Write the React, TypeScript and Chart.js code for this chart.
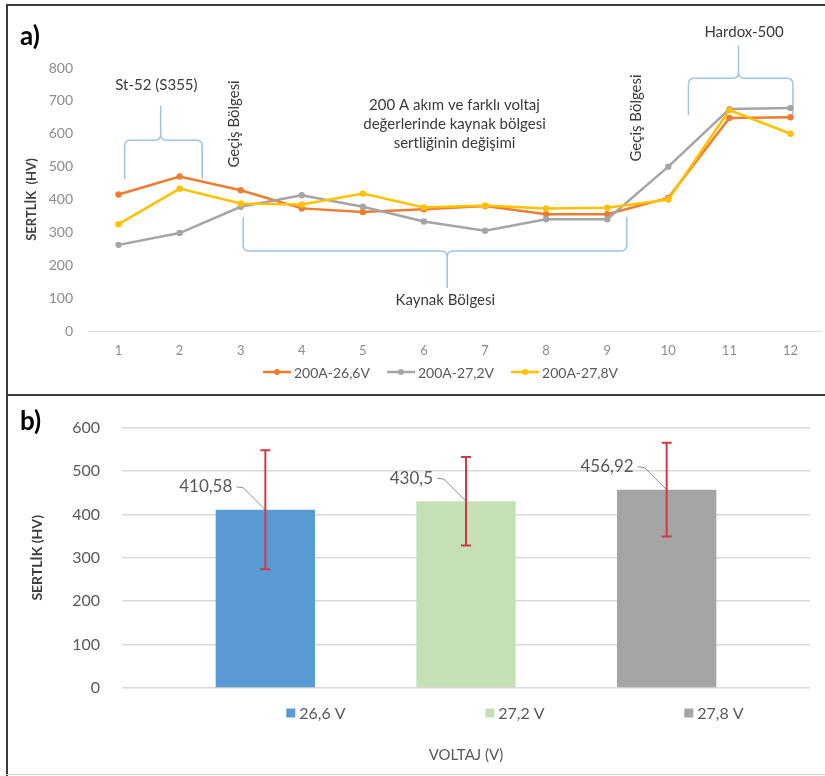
import React, { useEffect, useRef } from 'react';
import { Chart, registerables } from 'chart.js';

Chart.register(...registerables);

const FONT = 'Lato, "Open Sans", sans-serif';

// ---------- Panel a data ----------
const POSITIONS = ['1', '2', '3', '4', '5', '6', '7', '8', '9', '10', '11', '12'];
const SERIES_A_LABELS = ['200A-26,6V', '200A-27,2V', '200A-27,8V'];
const HV_26_6V = [415, 470, 428, 373, 362, 370, 380, 355, 355, 405, 648, 650];
const HV_27_2V = [262, 298, 378, 413, 378, 333, 305, 340, 340, 500, 675, 678];
const HV_27_8V = [325, 433, 388, 385, 418, 376, 382, 373, 375, 400, 672, 600];
const A_COLORS = ['#ED7D31', '#A5A5A5', '#FFC000'];
const A_Y_MAX = 800;
const A_Y_STEP = 100;

// Annotation braces (x in category index, y in HV)
const BRACES = [
  { x0: 0.1, x1: 1.37, xt: 0.69, yEnd: 462, yBar: 580, yTip: 686 },
  { x0: 2.04, x1: 8.32, xt: 5.38, yEnd: 347, yBar: 243, yTip: 131 },
  { x0: 9.33, x1: 11.04, xt: 10.15, yEnd: 656, yBar: 769, yTip: 869 },
];
const NOTES = [
  { lines: ['St-52 (S355)'], x: 0.62, y: 748, rotate: false },
  { lines: ['Geçiş Bölgesi'], x: 1.89, y: 630, rotate: true },
  { lines: ['Geçiş Bölgesi'], x: 8.47, y: 648, rotate: true },
  { lines: ['200 A akım ve farklı voltaj', 'değerlerinde kaynak bölgesi', 'sertliğinin değişimi'], x: 5.5, y: 687, rotate: false },
  { lines: ['Hardox-500'], x: 10.24, y: 909, rotate: false },
  { lines: ['Kaynak Bölgesi'], x: 5.35, y: 94, rotate: false },
];

// ---------- Panel b data ----------
const VOLT_LABELS = ['26,6 V', '27,2 V', '27,8 V'];
const MEAN_HV = [410.58, 430.5, 456.92];
const STD_HV = [137, 102, 108];
const B_COLORS = ['#5B9BD5', '#C5E0B4', '#A5A5A5'];
const B_Y_MAX = 600;
const B_Y_STEP = 100;

function drawBrace(ctx: CanvasRenderingContext2D, x0: number, x1: number, xt: number, yEnd: number, yBar: number, yTip: number, r: number) {
  const s = Math.sign(yEnd - yBar);
  ctx.beginPath();
  ctx.moveTo(x0, yEnd);
  ctx.lineTo(x0, yBar + s * r);
  ctx.quadraticCurveTo(x0, yBar, x0 + r, yBar);
  ctx.lineTo(xt - r, yBar);
  ctx.quadraticCurveTo(xt, yBar, xt, yBar - s * r);
  ctx.lineTo(xt, yTip);
  ctx.moveTo(xt, yBar - s * r);
  ctx.quadraticCurveTo(xt, yBar, xt + r, yBar);
  ctx.lineTo(x1 - r, yBar);
  ctx.quadraticCurveTo(x1, yBar, x1, yBar + s * r);
  ctx.lineTo(x1, yEnd);
  ctx.stroke();
}

const annotationPlugin = {
  id: 'annotA',
  beforeDatasetsDraw(chart: any) {
    const { ctx } = chart;
    const xs = chart.scales.x;
    const ys = chart.scales.y;
    ctx.save();
    ctx.strokeStyle = '#9DC3E6';
    ctx.lineWidth = 1.5;
    BRACES.forEach((b) => {
      drawBrace(
        ctx,
        xs.getPixelForValue(b.x0),
        xs.getPixelForValue(b.x1),
        xs.getPixelForValue(b.xt),
        ys.getPixelForValue(b.yEnd),
        ys.getPixelForValue(b.yBar),
        ys.getPixelForValue(b.yTip),
        6
      );
    });
    ctx.fillStyle = '#3A3A3A';
    ctx.font = `15px ${FONT}`;
    ctx.textAlign = 'center';
    ctx.textBaseline = 'middle';
    NOTES.forEach((n) => {
      const px = xs.getPixelForValue(n.x);
      const py = ys.getPixelForValue(n.y);
      if (n.rotate) {
        ctx.save();
        ctx.translate(px, py);
        ctx.rotate(-Math.PI / 2);
        ctx.fillText(n.lines[0], 0, 0);
        ctx.restore();
      } else {
        n.lines.forEach((t, i) => ctx.fillText(t, px, py + i * 19));
      }
    });
    ctx.restore();
  },
};

function makeLegend(cfg: any) {
  return {
    id: 'xlLegend' + cfg.key,
    afterDraw(chart: any) {
      const { ctx, chartArea } = chart;
      const ds = chart.data.datasets;
      ctx.save();
      ctx.font = cfg.font;
      ctx.textBaseline = 'middle';
      ctx.textAlign = 'left';
      const widths = ds.map((d: any) => cfg.markerWidth + cfg.markerGap + ctx.measureText(d.label).width);
      const cx = (chartArea.left + chartArea.right) / 2 + cfg.centerOffset;
      const y = chartArea.bottom + cfg.dy;
      const starts: number[] = [];
      if (cfg.step) {
        widths.forEach((w: number, i: number) => starts.push(cx + (i - (ds.length - 1) / 2) * cfg.step - w / 2));
      } else {
        const total = widths.reduce((a: number, b: number) => a + b, 0) + cfg.gap * (ds.length - 1);
        let x = cx - total / 2;
        widths.forEach((w: number) => {
          starts.push(x);
          x += w + cfg.gap;
        });
      }
      ds.forEach((d: any, i: number) => {
        const x = starts[i];
        const color = d.borderColor || d.backgroundColor;
        if (cfg.marker === 'line') {
          ctx.strokeStyle = color;
          ctx.lineWidth = 2.5;
          ctx.beginPath();
          ctx.moveTo(x, y);
          ctx.lineTo(x + cfg.markerWidth, y);
          ctx.stroke();
          ctx.fillStyle = color;
          ctx.beginPath();
          ctx.arc(x + cfg.markerWidth / 2, y, 3, 0, Math.PI * 2);
          ctx.fill();
        } else {
          ctx.fillStyle = d.backgroundColor;
          ctx.fillRect(x, y - cfg.markerWidth / 2, cfg.markerWidth, cfg.markerWidth);
        }
        ctx.fillStyle = cfg.color;
        ctx.fillText(d.label, x + cfg.markerWidth + cfg.markerGap, y + 1);
      });
      ctx.restore();
    },
  };
}

const barExtrasPlugin = {
  id: 'barExtras',
  afterDatasetsDraw(chart: any) {
    const { ctx } = chart;
    const ys = chart.scales.y;
    ctx.save();
    chart.data.datasets.forEach((d: any, i: number) => {
      const bar = chart.getDatasetMeta(i).data[0];
      if (!bar) return;
      const v = d.data[0] as number;
      const x = bar.x;
      const yTop = bar.y;
      // data label with leader line
      const ly = yTop - 23;
      ctx.strokeStyle = '#8C8C8C';
      ctx.lineWidth = 1;
      ctx.beginPath();
      ctx.moveTo(x - 29, ly);
      ctx.lineTo(x - 22, ly + 1);
      ctx.lineTo(x, yTop);
      ctx.stroke();
      ctx.fillStyle = '#595959';
      ctx.font = `17px ${FONT}`;
      ctx.textAlign = 'right';
      ctx.textBaseline = 'middle';
      ctx.fillText(String(v).replace('.', ','), x - 33, ly);
      // error bar
      const e = STD_HV[i];
      const y1 = ys.getPixelForValue(v + e);
      const y2 = ys.getPixelForValue(v - e);
      ctx.strokeStyle = '#D43A45';
      ctx.lineWidth = 2;
      ctx.beginPath();
      ctx.moveTo(x, y1);
      ctx.lineTo(x, y2);
      ctx.moveTo(x - 5, y1);
      ctx.lineTo(x + 5, y1);
      ctx.moveTo(x - 5, y2);
      ctx.lineTo(x + 5, y2);
      ctx.stroke();
    });
    ctx.restore();
  },
};

export default function App() {
  const refA = useRef<HTMLCanvasElement>(null);
  const refB = useRef<HTMLCanvasElement>(null);

  useEffect(() => {
    Chart.defaults.font.family = FONT;
    const seriesA = [HV_26_6V, HV_27_2V, HV_27_8V];
    const chartA = new Chart(refA.current as HTMLCanvasElement, {
      type: 'line',
      data: {
        labels: POSITIONS,
        datasets: seriesA.map((vals, i) => ({
          label: SERIES_A_LABELS[i],
          data: vals,
          borderColor: A_COLORS[i],
          backgroundColor: A_COLORS[i],
          pointBackgroundColor: A_COLORS[i],
          pointBorderWidth: 0,
          pointRadius: 3.2,
          borderWidth: 2.5,
          tension: 0,
          fill: false,
          order: 2 - i,
        })),
      },
      options: {
        responsive: false,
        animation: false,
        devicePixelRatio: 1,
        layout: { padding: { top: 68, right: 2, bottom: 38, left: 0 } },
        plugins: { legend: { display: false }, tooltip: { enabled: false } },
        scales: {
          x: {
            offset: true,
            grid: { display: false, drawTicks: false },
            border: { display: true, color: '#D9D9D9', width: 1 },
            ticks: { color: '#8C8C8C', font: { size: 13 }, padding: 12, maxRotation: 0 },
            afterFit: (s: any) => {
              s.height = 25;
            },
          },
          y: {
            min: 0,
            max: A_Y_MAX,
            ticks: { stepSize: A_Y_STEP, color: '#8C8C8C', font: { size: 14 }, padding: 15 },
            grid: { display: false, drawTicks: false },
            border: { display: false },
            title: {
              display: true,
              text: 'SERTLİK  (HV)',
              color: '#404040',
              font: { size: 13, weight: 'bold' },
              padding: { top: 24, bottom: 0 },
            },
            afterFit: (s: any) => {
              s.width = 88;
            },
          },
        },
      } as any,
      plugins: [
        annotationPlugin,
        makeLegend({ key: 'A', font: `14px ${FONT}`, color: '#595959', marker: 'line', markerWidth: 28, markerGap: 3, gap: 17, centerOffset: -14, dy: 41 }),
      ],
    });

    const chartB = new Chart(refB.current as HTMLCanvasElement, {
      type: 'bar',
      data: {
        labels: [''],
        datasets: VOLT_LABELS.map((l, i) => ({
          label: l,
          data: [MEAN_HV[i]],
          backgroundColor: B_COLORS[i],
          categoryPercentage: 0.875,
          barPercentage: 0.495,
        })),
      },
      options: {
        responsive: false,
        animation: false,
        devicePixelRatio: 1,
        layout: { padding: { top: 14, right: 15, bottom: 0, left: 0 } },
        plugins: { legend: { display: false }, tooltip: { enabled: false } },
        scales: {
          x: {
            grid: { display: false },
            border: { display: false },
            ticks: { display: false },
            title: {
              display: true,
              text: 'VOLTAJ (V)',
              color: '#595959',
              font: { size: 15 },
              padding: { top: 0, bottom: 12 },
            },
            afterFit: (s: any) => {
              s.height = 88;
            },
          },
          y: {
            min: 0,
            max: B_Y_MAX,
            ticks: { stepSize: B_Y_STEP, color: '#595959', font: { size: 16 }, padding: 22 },
            grid: { color: '#D9D9D9', lineWidth: 1.5, drawTicks: false },
            border: { display: false },
            title: {
              display: true,
              text: 'SERTLİK (HV)',
              color: '#404040',
              font: { size: 14, weight: 'bold' },
              padding: { top: 28.6, bottom: 0 },
            },
            afterFit: (s: any) => {
              s.width = 122;
            },
          },
        },
      } as any,
      plugins: [
        barExtrasPlugin,
        makeLegend({ key: 'B', font: `16px ${FONT}`, color: '#595959', marker: 'square', markerWidth: 9, markerGap: 4, step: 199, centerOffset: 49, dy: 25 }),
      ],
    });

    return () => {
      chartA.destroy();
      chartB.destroy();
    };
  }, []);

  const line = (style: React.CSSProperties) => <div style={{ position: 'absolute', background: '#3A3A3A', ...style }} />;

  return (
    <div style={{ position: 'absolute', left: 0, top: 0, width: 825, height: 776, background: '#fff', overflow: 'hidden' }}>
      <canvas ref={refA} width={825} height={394} style={{ position: 'absolute', left: 0, top: 0, width: 825, height: 394 }} />
      <canvas ref={refB} width={825} height={380} style={{ position: 'absolute', left: 0, top: 396, width: 825, height: 380 }} />
      {line({ left: 6, top: 4, width: 2, height: 772 })}
      {line({ left: 6, top: 4, width: 819, height: 2 })}
      {line({ left: 6, top: 394, width: 819, height: 2 })}
      {line({ left: 6, top: 774, width: 819, height: 1, background: '#D0D0D0' })}
      <div style={{ position: 'absolute', left: 20, top: 22, font: `bold 26px ${FONT}`, lineHeight: 1, color: '#000' }}>a)</div>
      <div style={{ position: 'absolute', left: 20, top: 407, font: `bold 26px ${FONT}`, lineHeight: 1, color: '#000' }}>b)</div>
    </div>
  );
}
